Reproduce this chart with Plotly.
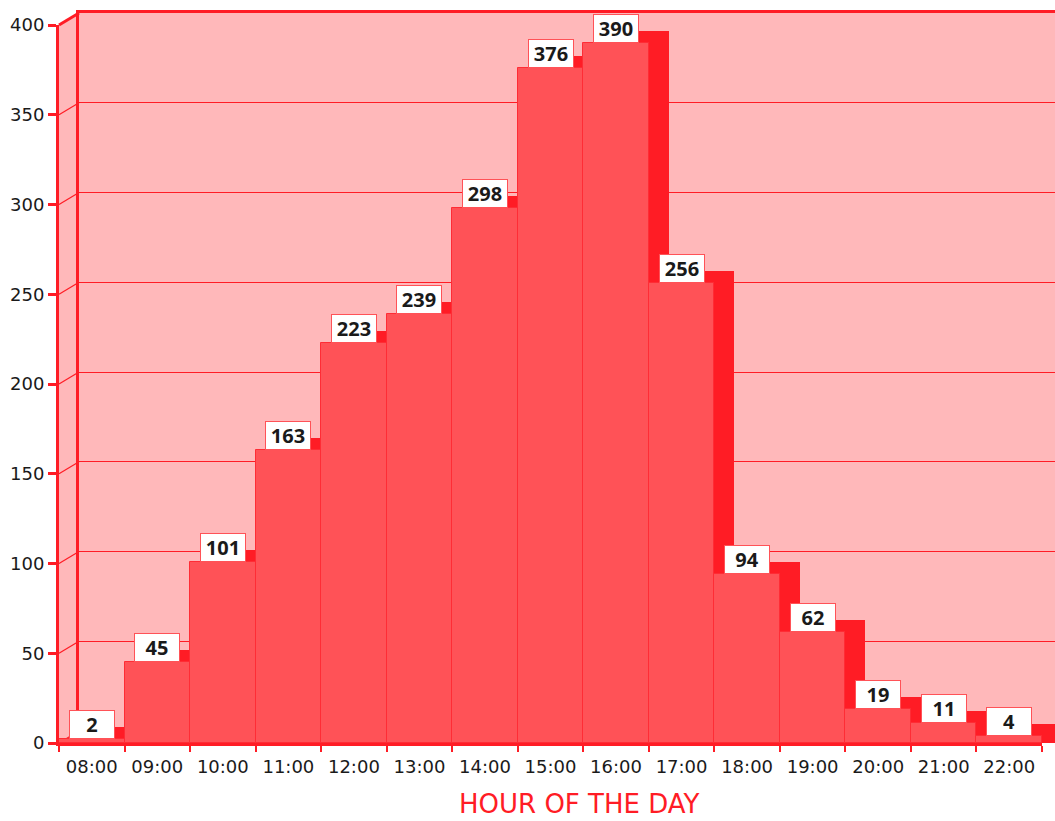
import plotly.graph_objects as go

# ---------------- data ----------------
hours = ["08:00", "09:00", "10:00", "11:00", "12:00", "13:00", "14:00", "15:00",
         "16:00", "17:00", "18:00", "19:00", "20:00", "21:00", "22:00"]
counts = [2, 45, 101, 163, 223, 239, 298, 376, 390, 256, 94, 62, 19, 11, 4]
y_ticks = [0, 50, 100, 150, 200, 250, 300, 350, 400]
x_title = "HOUR OF THE DAY"

# ---------------- styling / geometry ----------------
W, H = 1055, 821
FRONT_L, FRONT_R = 59, 1042      # px of front plane
FRONT_T, FRONT_B = 25, 743
DX, DY = 20, 12                  # 3D depth offset in px
YMAX = 400

PINK = "#FFB8BA"
RED = "#FF1C25"
FRONT = "#FF5257"
EDGE = "#FF2C35"
TXT = "#1a1a1a"
FONT = "DejaVu Sans"

ppu = (FRONT_B - FRONT_T) / YMAX           # px per unit
bw = (FRONT_R - FRONT_L) / len(hours)     # px per category
off = DY / ppu                            # depth offset in data units


def px_x(x):
    return x / W


def px_y(y):
    return (H - y) / H


fig = go.Figure()

# back faces (dark) on the back plane axes
fig.add_trace(go.Bar(
    x=hours, y=[v + off for v in counts], base=[-off] * len(counts),
    xaxis="x", yaxis="y", marker=dict(color=RED, line=dict(width=0)),
    hoverinfo="skip", showlegend=False))

# front faces on the front plane axes
fig.add_trace(go.Bar(
    x=hours, y=counts, xaxis="x2", yaxis="y2",
    marker=dict(color=FRONT, line=dict(color=EDGE, width=1)),
    hoverinfo="skip", showlegend=False))

annotations = []
for h, v in zip(hours, counts):
    annotations.append(dict(
        x=h, y=v, xref="x2", yref="y2", text=f"<b>{v}</b>", showarrow=False,
        yanchor="bottom", xanchor="center", bgcolor="white", bordercolor=FRONT,
        borderwidth=1, borderpad=1, width=42, height=25,
        font=dict(family="Open Sans", size=20, color=TXT)))

annotations.append(dict(
    x=px_x(579), y=px_y(804), xref="paper", yref="paper", text=x_title,
    showarrow=False, xanchor="center", yanchor="middle",
    font=dict(family=FONT, size=26, color=RED)))

shapes = []
# pink walls (back wall + left wall + floor) as one polygon under everything
wall = [(FRONT_L, FRONT_T), (FRONT_L + DX, FRONT_T - DY), (W, FRONT_T - DY),
        (W, FRONT_B - DY * (W - FRONT_R) / DX), (FRONT_R, FRONT_B), (FRONT_L, FRONT_B)]
path = "M " + " L ".join(f"{px_x(a)},{px_y(b)}" for a, b in wall) + " Z"
shapes.append(dict(type="path", xref="paper", yref="paper", layer="below",
                   path=path, fillcolor=PINK, line=dict(width=0)))
# side wall diagonals (3D frame)
for t in y_ticks:
    yf = FRONT_B - t * ppu
    shapes.append(dict(
        type="line", xref="paper", yref="paper", layer="below",
        x0=px_x(FRONT_L), y0=px_y(yf), x1=px_x(FRONT_L + DX), y1=px_y(yf - DY),
        line=dict(color=RED, width=3 if t == YMAX else 1.2)))

back_xr = [-0.5, -0.5 + (W - (FRONT_L + DX)) / bw]

fig.update_layout(
    width=W, height=H,
    margin=dict(l=0, r=0, t=0, b=0, pad=0, autoexpand=False),
    paper_bgcolor="white", plot_bgcolor="rgba(0,0,0,0)",
    bargap=0, barmode="overlay",
    showlegend=False,
    annotations=annotations, shapes=shapes,
    xaxis=dict(domain=[px_x(FRONT_L + DX), 1.0], range=back_xr, type="category",
               showgrid=False, zeroline=False, showticklabels=False, ticks="",
               showline=True, side="top", linecolor=RED, linewidth=3,
               automargin=False, fixedrange=True),
    yaxis=dict(domain=[px_y(FRONT_B), px_y(FRONT_T - DY)], range=[-off, YMAX],
               tickvals=y_ticks[1:], showgrid=True, gridcolor=RED, gridwidth=1.2,
               zeroline=False, showticklabels=False, ticks="",
               showline=True, linecolor=RED, linewidth=3,
               automargin=False, fixedrange=True),
    xaxis2=dict(domain=[px_x(FRONT_L), px_x(FRONT_R)], range=[-0.5, len(hours) - 0.5],
                type="category", anchor="y2", showgrid=False, zeroline=False,
                tickson="boundaries", ticks="outside", ticklen=6, tickwidth=2,
                tickcolor=RED, showline=True, linecolor=RED, linewidth=2.5,
                ticklabelstandoff=6,
                tickfont=dict(family=FONT, size=18, color=TXT),
                automargin=False, fixedrange=True),
    yaxis2=dict(domain=[px_y(FRONT_B), px_y(FRONT_T)], range=[0, YMAX], anchor="x2",
                tickvals=y_ticks, showgrid=False, zeroline=False,
                ticks="outside", ticklen=8, tickwidth=2.5, tickcolor=RED,
                showline=True, linecolor=RED, linewidth=3,
                tickfont=dict(family=FONT, size=18, color=TXT),
                automargin=False, fixedrange=True),
)

fig.write_html("out.html", config={"displayModeBar": False})
